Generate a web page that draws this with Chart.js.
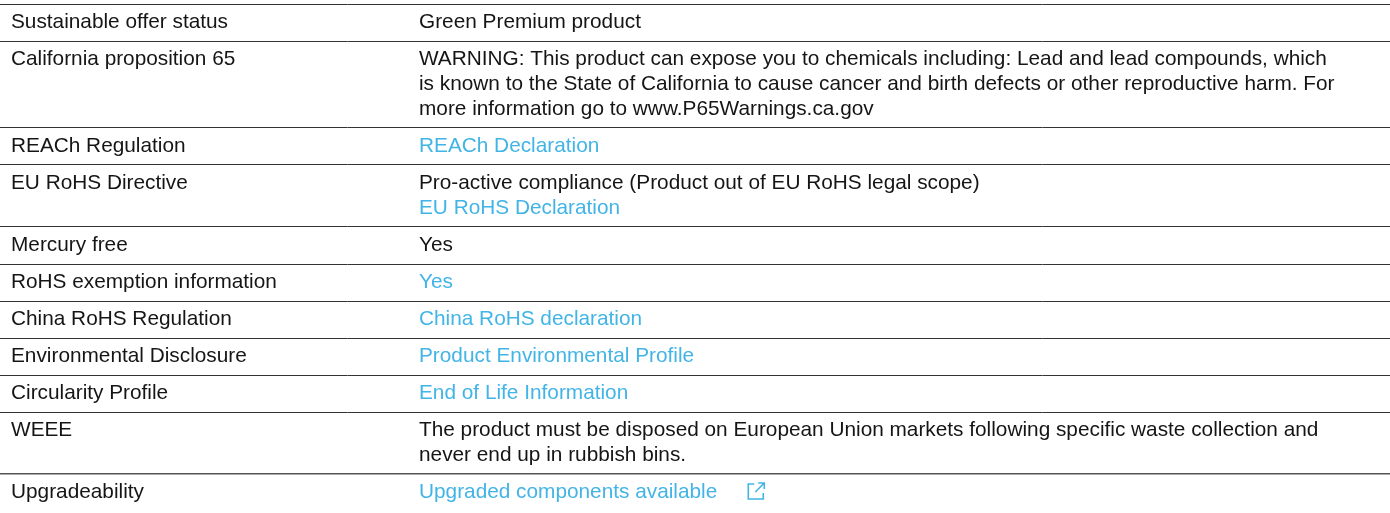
<!DOCTYPE html>
<html>
<head>
<meta charset="utf-8">
<script src="https://cdn.jsdelivr.net/npm/chart.js@4"></script>
<style>
  html, body { margin: 0; padding: 0; background: #fff; }
  canvas { display: block; }
</style>
</head>
<body>
<canvas id="chartCanvas" width="1390" height="513"></canvas>
<script>
// --- table data (one entry per row) ---
const rowLabels = [
  "Sustainable offer status",
  "California proposition 65",
  "REACh Regulation",
  "EU RoHS Directive",
  "Mercury free",
  "RoHS exemption information",
  "China RoHS Regulation",
  "Environmental Disclosure",
  "Circularity Profile",
  "WEEE",
  "Upgradeability"
];

// right column text, one string per printed line
const rowValues = [
  ["Green Premium product"],
  ["WARNING: This product can expose you to chemicals including: Lead and lead compounds, which",
   "is known to the State of California to cause cancer and birth defects or other reproductive harm. For",
   "more information go to www.P65Warnings.ca.gov"],
  ["REACh Declaration"],
  ["Pro-active compliance (Product out of EU RoHS legal scope)", "EU RoHS Declaration"],
  ["Yes"],
  ["Yes"],
  ["China RoHS declaration"],
  ["Product Environmental Profile"],
  ["End of Life Information"],
  ["The product must be disposed on European Union markets following specific waste collection and",
   "never end up in rubbish bins."],
  ["Upgraded components available"]
];

// which printed lines are links (same shape as rowValues)
const rowLinks = [
  [false],
  [false, false, false],
  [true],
  [false, true],
  [false],
  [true],
  [true],
  [true],
  [true],
  [false, false],
  [true]
];

// rows that end with the external-link icon
const externalIcon = [false, false, false, false, false, false, false, false, false, false, true];

// --- layout / style ---
const ROW_PAD = 0.48;          // top + bottom padding of a row, in line units
const TEXT_DARK = "#151515";
const LINK_BLUE = "#42b4e6";
const FONT = "20.8px 'Liberation Sans', Arial, sans-serif";
const COL1_X = 11;
const COL2_X = 419;

// row boundaries in line units
const rowStarts = [];
let acc = 0;
rowValues.forEach(lines => {
  rowStarts.push(acc);
  acc += lines.length + ROW_PAD;
});
const totalUnits = acc;

const tablePlugin = {
  id: "tableText",
  afterDraw(chart) {
    const ctx = chart.ctx;
    const xs = chart.scales.x;
    const ys = chart.scales.y;
    ctx.save();
    ctx.font = FONT;
    ctx.textBaseline = "alphabetic";
    ctx.textAlign = "left";

    rowLabels.forEach((label, r) => {
      const base = rowStarts[r] + 0.96;
      ctx.fillStyle = TEXT_DARK;
      ctx.fillText(label, xs.getPixelForValue(COL1_X), ys.getPixelForValue(base));

      rowValues[r].forEach((line, i) => {
        const y = ys.getPixelForValue(base + i);
        const x = xs.getPixelForValue(COL2_X);
        ctx.fillStyle = rowLinks[r][i] ? LINK_BLUE : TEXT_DARK;
        ctx.fillText(line, x, y);

        if (externalIcon[r] && i === rowValues[r].length - 1) {
          // small "open in new window" icon after the text
          const w = ctx.measureText(line).width;
          const ix = x + w + 30;
          const iy = y - 16;
          ctx.strokeStyle = LINK_BLUE;
          ctx.lineWidth = 1.6;
          ctx.beginPath();
          ctx.moveTo(ix + 7, iy + 2);
          ctx.lineTo(ix + 1, iy + 2);
          ctx.lineTo(ix + 1, iy + 17);
          ctx.lineTo(ix + 16, iy + 17);
          ctx.lineTo(ix + 16, iy + 11);
          ctx.stroke();
          ctx.beginPath();
          ctx.moveTo(ix + 8, iy + 10);
          ctx.lineTo(ix + 17, iy + 1);
          ctx.moveTo(ix + 11, iy + 1);
          ctx.lineTo(ix + 17, iy + 1);
          ctx.lineTo(ix + 17, iy + 7);
          ctx.stroke();
        }
      });
    });
    ctx.restore();
  }
};

const canvas = document.getElementById("chartCanvas");

new Chart(canvas, {
  type: "scatter",
  data: { datasets: [{ data: [] }] },
  options: {
    responsive: false,
    animation: false,
    events: [],
    layout: { padding: { top: 4, bottom: 2, left: 0, right: 0 } },
    plugins: {
      legend: { display: false },
      tooltip: { enabled: false }
    },
    scales: {
      x: {
        type: "linear",
        min: 0,
        max: 1390,
        display: false
      },
      y: {
        type: "linear",
        reverse: true,
        min: 0,
        max: totalUnits,
        afterBuildTicks: scale => {
          // separators at the top of every row
          scale.ticks = rowStarts.map(v => ({ value: v }));
        },
        ticks: { display: false },
        border: { display: false },
        grid: {
          drawTicks: false,
          // the last separator is a little lighter in the original
          color: ctx => ctx.index === rowStarts.length - 1 ? "#555555" : "#333333",
          lineWidth: ctx => ctx.index === rowStarts.length - 1 ? 1.5 : 1
        }
      }
    }
  },
  plugins: [tablePlugin]
});
</script>
</body>
</html>
